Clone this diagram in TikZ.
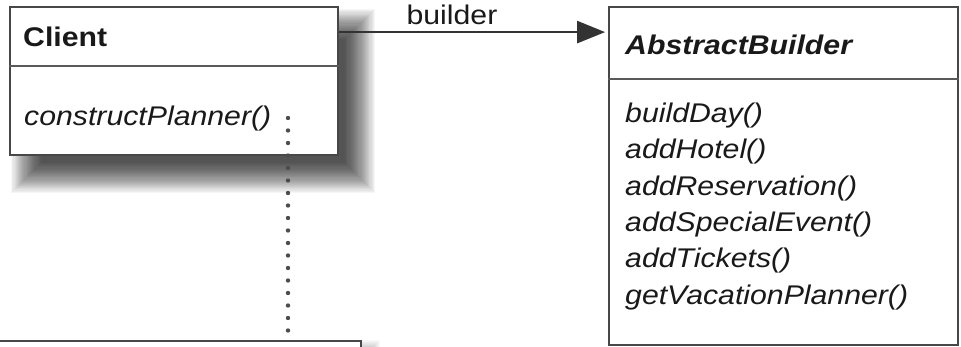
\documentclass[tikz,border=0pt]{standalone}
\usepackage{fontspec}
\setmainfont{Liberation Sans}[FakeStretch=1.12]
\usetikzlibrary{arrows.meta,calc}
\begin{document}
\begin{tikzpicture}[x=1pt,y=-1pt,
  classbox/.style={draw=black!72,line width=1.8pt,fill=white,rectangle,inner sep=0pt},
  txt/.style={anchor=base west,inner sep=0pt,text=black!90,font=\fontsize{27}{36}\selectfont},
  title/.style={txt,font=\fontsize{27}{36}\selectfont\bfseries},
  divider/.style={draw=black!65,line width=1.6pt},
  assoc/.style={draw=black!80,line width=2.6pt,-{Triangle[length=28pt,width=22pt]}},
  dep/.style={draw=black!70,line width=4.4pt,line cap=round,dash pattern=on 0pt off 12.5pt},
  shadowlayer/.style={fill=black,opacity=0.036}]
\useasboundingbox (0,0) rectangle (961,347);
\clip (0,0) rectangle (961,347);
\fill[white] (0,0) rectangle (961,347);
% shadows (drawn as stacked soft layers)
\foreach \i in {1,...,28}{
  \pgfmathsetmacro\r{1.1*\i}
  \fill[shadowlayer] (42-\r,40-\r) rectangle (344+\r,162+\r);
}
\foreach \i in {1,...,12}{
  \fill[shadowlayer,opacity=0.025] (0,352-\i) rectangle (368+\i,400);
}
% bottom partial box
\node[classbox,minimum width=375pt,minimum height=100pt] (bottom) at (173.5,391) {};
% client
\node[classbox,minimum width=328pt,minimum height=148pt] (client) at (174,81) {};
\draw[divider] ([yshift=-60pt]client.north west) -- ([yshift=-60pt]client.north east);
\node[title] (clientname) at (23,47) {Client};
\node[txt,font=\fontsize{27}{36}\selectfont\itshape] (cp) at (24,126) {constructPlanner()};
% abstract builder
\node[classbox,minimum width=349pt,minimum height=338pt] (ab) at (783.5,176) {};
\draw[divider] ([yshift=-73pt]ab.north west) -- ([yshift=-73pt]ab.north east);
\node[title,font=\fontsize{27}{36}\selectfont\bfseries\itshape] (abname) at (625,55) {AbstractBuilder};
\node[txt,font=\fontsize{27}{36.4}\selectfont\itshape,align=left,anchor=north west] (methods) at (625,102.5)
  {buildDay()\\addHotel()\\addReservation()\\addSpecialEvent()\\addTickets()\\getVacationPlanner()};
% association
\draw[assoc,shorten >=3pt] ([yshift=-26pt]client.north east) -- node[pos=0.42,anchor=base,yshift=8pt,inner sep=0pt,text=black!90,font=\fontsize{27}{36}\selectfont] (lbl) {builder} ([yshift=-26pt]ab.north west);
% dependency
\coordinate (dotstart) at (288,118);
\draw[dep] (dotstart) -- ([yshift=6pt]dotstart |- bottom.north);
\end{tikzpicture}
\end{document}
